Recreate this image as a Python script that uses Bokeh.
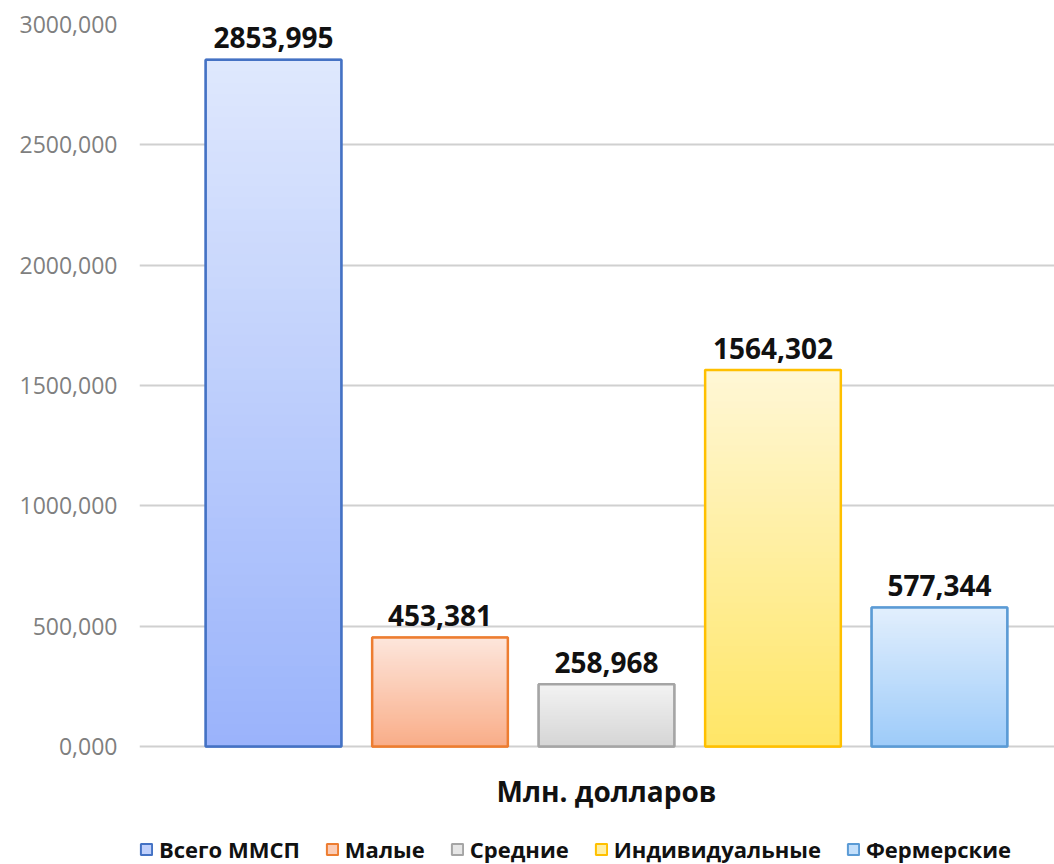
from bokeh.plotting import figure
from bokeh.models import (ColumnDataSource, Range1d, FixedTicker, CustomJSTickFormatter,
                          Legend, LegendItem, Label)
from bokeh.core.properties import value
from bokeh.embed import file_html
from bokeh.resources import INLINE

# ---- data ----
categories = ["Всего ММСП", "Малые", "Средние", "Индивидуальные", "Фермерские"]
values = [2853.995, 453.381, 258.968, 1564.302, 577.344]
value_labels = ["2853,995", "453,381", "258,968", "1564,302", "577,344"]
axis_title = "Млн. долларов"
y_ticks = [0, 500, 1000, 1500, 2000, 2500, 3000]

# ---- styles ----
top_colors = ["#dfe8fd", "#fde6dc", "#f3f3f3", "#fff7d6", "#e2effd"]
bottom_colors = ["#9ab3fb", "#f9ad88", "#d5d5d5", "#ffe666", "#9dcbf9"]
border_colors = ["#4472c4", "#ed7d31", "#a5a5a5", "#ffc000", "#5b9bd5"]
FONT = "Open Sans"
BAR_W = 0.815
N_SLICES = 60

# layout geometry (pixels)
W, H = 1054, 864
TOP, LEFT = 24, 139
ZERO_PX = 746                       # pixel row of the value 0
Y_MAX = 3000
PX_PER_UNIT = (ZERO_PX - TOP) / Y_MAX
Y_MIN = -(H - ZERO_PX) / PX_PER_UNIT   # room below zero for the title and legend


def hex2rgb(h):
    h = h.lstrip("#")
    return tuple(int(h[i:i + 2], 16) for i in (0, 2, 4))


def mix(c1, c2, t):
    a, b = hex2rgb(c1), hex2rgb(c2)
    return "#%02x%02x%02x" % tuple(round(a[i] + (b[i] - a[i]) * t) for i in range(3))


p = figure(width=W, height=H, output_backend="svg", toolbar_location=None,
           x_range=Range1d(-0.805, 4.691), y_range=Range1d(Y_MIN, Y_MAX),
           x_axis_location=None,
           min_border_left=LEFT, min_border_right=0, min_border_top=TOP, min_border_bottom=0)
p.outline_line_color = None
p.background_fill_color = "white"
p.border_fill_color = "white"

# grid
p.xgrid.visible = False
p.ygrid.ticker = FixedTicker(ticks=y_ticks)
p.ygrid.grid_line_color = "#d0d0d0"
p.ygrid.grid_line_width = 2

# y axis
ya = p.yaxis[0]
ya.ticker = FixedTicker(ticks=y_ticks)
ya.formatter = CustomJSTickFormatter(code="return tick.toFixed(3).replace('.', ',');")
ya.axis_line_color = None
ya.major_tick_line_color = None
ya.minor_tick_line_color = None
ya.major_tick_out = 0
ya.major_tick_in = 0
ya.major_label_standoff = 22
ya.major_label_text_font = FONT
ya.major_label_text_font_size = "23px"
ya.major_label_text_color = "#7f7f7f"

legend_items = []
for i, (cat, v) in enumerate(zip(categories, values)):
    left, right = i - BAR_W / 2, i + BAR_W / 2
    # base rect (used for the legend swatch)
    base = p.quad(left=[left], right=[right], bottom=[0], top=[v],
                  fill_color=mix(top_colors[i], bottom_colors[i], 0.45),
                  line_color=border_colors[i], line_width=2)
    # vertical gradient: overlapping bands, each from its level up to the top
    bots = [v * k / N_SLICES for k in range(N_SLICES)]
    cols = [mix(bottom_colors[i], top_colors[i], (k + 0.5) / N_SLICES) for k in range(N_SLICES)]
    src = ColumnDataSource(dict(left=[left] * N_SLICES, right=[right] * N_SLICES,
                                bottom=bots, top=[v] * N_SLICES, color=cols))
    p.quad(left="left", right="right", bottom="bottom", top="top", source=src,
           fill_color="color", line_color=None)
    # border
    p.quad(left=[left], right=[right], bottom=[0], top=[v], fill_alpha=0,
           line_color=border_colors[i], line_width=2.5)
    legend_items.append(LegendItem(label=cat, renderers=[base]))

# value labels
lab_src = ColumnDataSource(dict(x=list(range(len(values))), y=values, t=value_labels))
p.text(x="x", y="y", text="t", source=lab_src, text_align="center",
       text_baseline="alphabetic", y_offset=-22,
       text_font=value(FONT), text_font_size="28px", text_font_style="bold",
       text_color="#111111")

# category-axis title, centred under the bar group
p.add_layout(Label(x=(len(values) - 1) / 2, y=0, y_offset=-44, text=axis_title,
                   text_align="center", text_baseline="middle",
                   text_font=FONT, text_font_size="28px", text_font_style="bold",
                   text_color="#111111"))

legend = Legend(items=legend_items, orientation="horizontal", location=(0, 0),
                glyph_width=14, glyph_height=14, label_standoff=6, spacing=25,
                label_text_font=FONT, label_text_font_size="22px",
                label_text_font_style="bold", label_text_color="#111111",
                border_line_color=None, background_fill_alpha=0, padding=0, margin=0)
p.add_layout(legend, "center")

open("out.html", "w").write(file_html(p, INLINE))
